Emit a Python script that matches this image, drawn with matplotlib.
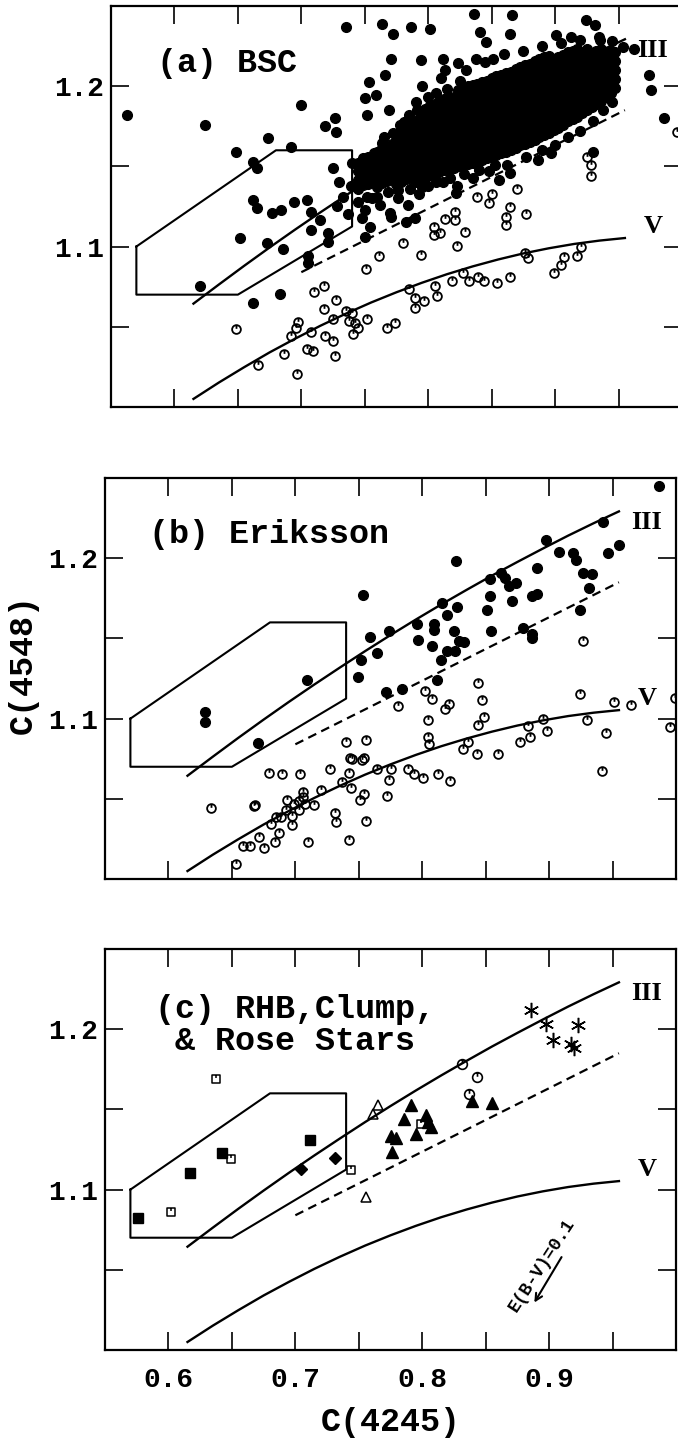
import numpy as np
import matplotlib.pyplot as plt
from matplotlib.path import Path

# ---- reference sequences (III = giants, V = dwarfs), dashed divider, box ----
seq_x = [0.615, 0.635, 0.655, 0.675, 0.695, 0.715, 0.735, 0.755, 0.775,
         0.795, 0.815, 0.835, 0.855, 0.875, 0.895, 0.915, 0.935, 0.955]
giant_y = [1.0644, 1.0763, 1.0880, 1.0994, 1.1105, 1.1213, 1.1318, 1.1421, 1.1521,
           1.1618, 1.1712, 1.1803, 1.1892, 1.1977, 1.2060, 1.2141, 1.2218, 1.2292]
dwarf_y = [1.0050, 1.0152, 1.0248, 1.0340, 1.0425, 1.0506, 1.0581, 1.0651, 1.0715,
           1.0774, 1.0828, 1.0876, 1.0919, 1.0957, 1.0989, 1.1016, 1.1037, 1.1053]
dash_x = [0.70, 0.955]
dash_y = [1.084, 1.185]
box_x = [0.57, 0.57, 0.65, 0.74, 0.74, 0.68, 0.57]
box_y = [1.10, 1.07, 1.07, 1.1125, 1.16, 1.16, 1.10]

# ---- (a) BSC: giants (filled), scattered stars ----
bsc_giants = [
    (0.5624, 1.182), (0.6239, 1.1757), (0.6488, 1.1591), (0.6734, 1.1674), (0.6622, 1.1525),
    (0.6649, 1.1488), (0.6922, 1.1622), (0.6997, 1.1882), (0.7185, 1.1753), (0.7264, 1.1799),
    (0.727, 1.1716), (0.7349, 1.2369), (0.7247, 1.1488), (0.6622, 1.129), (0.6649, 1.1239),
    (0.6768, 1.1207), (0.6837, 1.1228), (0.6939, 1.128), (0.7042, 1.129), (0.7076, 1.1218),
    (0.7144, 1.1166), (0.7076, 1.1104), (0.7213, 1.1083), (0.7213, 1.1031), (0.6519, 1.1052),
    (0.6727, 1.1025), (0.6854, 1.0983), (0.7049, 1.0938), (0.7049, 1.0896), (0.6198, 1.0755),
    (0.6622, 1.0651), (0.683, 1.0705), (0.7503, 1.1058), (0.74, 1.1519), (0.7537, 1.2027),
    (0.7503, 1.1923), (0.7588, 1.1944), (0.7517, 1.182), (0.7656, 1.2068), (0.769, 1.1851),
    (0.7639, 1.239), (0.7725, 1.2328), (0.7861, 1.2369), (0.8015, 1.2359), (0.7708, 1.2166),
    (0.7947, 1.2162), (0.781, 1.1778), (0.7639, 1.1643), (0.7571, 1.1581), (0.8117, 1.2172),
    (0.8135, 1.21), (0.8237, 1.2141), (0.8357, 1.2452), (0.8408, 1.2338), (0.8459, 1.2276),
    (0.8664, 1.2442), (0.8647, 1.2328), (0.8374, 1.2172), (0.8511, 1.2172), (0.9006, 1.2317),
    (0.9125, 1.2307), (0.9245, 1.2411), (0.9313, 1.238), (0.9347, 1.2307), (0.8783, 1.2037),
    (0.974, 1.2068), (0.9757, 1.1975), (0.9859, 1.1799), (0.962, 1.2234), (0.9535, 1.2245),
    (0.9296, 1.1591), (0.8971, 1.1581), (0.8869, 1.154), (0.8647, 1.1456), (0.8561, 1.1415),
    (0.822, 1.1332), (0.7896, 1.1176), (0.7827, 1.1156), (0.7708, 1.1187),
    (0.728, 1.125), (0.733, 1.131), (0.737, 1.120), (0.745, 1.128), (0.750, 1.123),
    (0.756, 1.130), (0.739, 1.138), (0.730, 1.140), (0.748, 1.118), (0.754, 1.112),
    (0.762, 1.126), (0.770, 1.121), (0.776, 1.130), (0.784, 1.126), (0.793, 1.133),
    (0.800, 1.138), (0.812, 1.140), (0.823, 1.138), (0.835, 1.143), (0.848, 1.147),
    (0.862, 1.151), (0.877, 1.156), (0.890, 1.160), (0.900, 1.163), (0.910, 1.168),
    (0.920, 1.172), (0.930, 1.178), (0.938, 1.185), (0.945, 1.190),
    (0.790, 1.190), (0.795, 1.200), (0.810, 1.205), (0.830, 1.210), (0.845, 1.215),
    (0.860, 1.220), (0.875, 1.222), (0.890, 1.225), (0.905, 1.227), (0.920, 1.229),
    (0.935, 1.229), (0.945, 1.228),
    # ragged rim of the clump
    (0.765, 1.168), (0.772, 1.171), (0.778, 1.176), (0.785, 1.182), (0.791, 1.185),
    (0.800, 1.193), (0.806, 1.196), (0.815, 1.198), (0.825, 1.203),
    (0.752, 1.131), (0.760, 1.131), (0.768, 1.134), (0.776, 1.135), (0.786, 1.136),
    (0.795, 1.137), (0.806, 1.140), (0.817, 1.143), (0.828, 1.145), (0.840, 1.148),
    (0.853, 1.151),
]

# ---- (a) BSC: the saturated giant clump, read column by column ----
bsc_clump = [
    (0.7450, [1.136, 1.1415, 1.147, 1.152]),
    (0.7488, [1.1385, 1.144, 1.1495, 1.155]),
    (0.7525, [1.139, 1.1445, 1.150, 1.1555]),
    (0.7563, [1.140, 1.1455, 1.151, 1.1565]),
    (0.7600, [1.137, 1.1425, 1.148, 1.1535, 1.159]),
    (0.7638, [1.1395, 1.145, 1.1505, 1.156, 1.1615]),
    (0.7675, [1.141, 1.146, 1.151, 1.157, 1.162]),
    (0.7713, [1.142, 1.1475, 1.153, 1.1585, 1.164]),
    (0.7750, [1.139, 1.1445, 1.150, 1.1555, 1.161, 1.1665]),
    (0.7788, [1.1405, 1.146, 1.1515, 1.157, 1.1625, 1.168, 1.172]),
    (0.7825, [1.142, 1.1475, 1.153, 1.1585, 1.164, 1.1695, 1.175]),
    (0.7863, [1.143, 1.1485, 1.154, 1.1595, 1.165, 1.1705, 1.176]),
    (0.7900, [1.140, 1.1455, 1.151, 1.1565, 1.162, 1.1675, 1.173, 1.178]),
    (0.7938, [1.142, 1.1475, 1.153, 1.1585, 1.164, 1.1695, 1.175, 1.180, 1.184]),
    (0.7975, [1.143, 1.1485, 1.154, 1.1595, 1.165, 1.1705, 1.176, 1.1815, 1.186]),
    (0.8013, [1.1445, 1.150, 1.1555, 1.161, 1.1665, 1.172, 1.1775, 1.183, 1.188]),
    (0.8050, [1.145, 1.1505, 1.156, 1.1615, 1.167, 1.1725, 1.178, 1.1835, 1.189]),
    (0.8088, [1.1465, 1.152, 1.1575, 1.163, 1.1685, 1.174, 1.1795, 1.185, 1.190]),
    (0.8125, [1.148, 1.1535, 1.159, 1.1645, 1.170, 1.1755, 1.181, 1.1865, 1.192]),
    (0.8163, [1.1485, 1.154, 1.1595, 1.165, 1.1705, 1.176, 1.1815, 1.187, 1.1925]),
    (0.8200, [1.149, 1.1545, 1.160, 1.1655, 1.171, 1.1765, 1.182, 1.1875, 1.193]),
    (0.8238, [1.150, 1.1555, 1.161, 1.1665, 1.172, 1.1775, 1.183, 1.1885, 1.194, 1.1975]),
    (0.8275, [1.151, 1.1565, 1.162, 1.1675, 1.173, 1.1785, 1.184, 1.1895, 1.195, 1.1995]),
    (0.8313, [1.1515, 1.157, 1.1625, 1.168, 1.1735, 1.179, 1.1845, 1.190, 1.1955, 1.200]),
    (0.8350, [1.152, 1.157, 1.1625, 1.168, 1.1735, 1.179, 1.1845, 1.190, 1.1955, 1.2005]),
    (0.8388, [1.153, 1.1585, 1.164, 1.1695, 1.175, 1.1805, 1.186, 1.1915, 1.197, 1.2015]),
    (0.8425, [1.154, 1.1595, 1.165, 1.1705, 1.176, 1.1815, 1.187, 1.1925, 1.198, 1.2025]),
    (0.8463, [1.155, 1.1605, 1.166, 1.1715, 1.177, 1.1825, 1.188, 1.1935, 1.199, 1.2035]),
    (0.8500, [1.156, 1.1615, 1.167, 1.1725, 1.178, 1.1835, 1.189, 1.1945, 1.200, 1.205]),
    (0.8538, [1.157, 1.1625, 1.168, 1.1735, 1.179, 1.1845, 1.190, 1.1955, 1.201, 1.206]),
    (0.8575, [1.158, 1.1635, 1.169, 1.1745, 1.180, 1.1855, 1.191, 1.1965, 1.202, 1.207]),
    (0.8613, [1.159, 1.1645, 1.170, 1.1755, 1.181, 1.1865, 1.192, 1.1975, 1.203, 1.208]),
    (0.8650, [1.160, 1.1655, 1.171, 1.1765, 1.182, 1.1875, 1.193, 1.1985, 1.204, 1.209]),
    (0.8688, [1.1615, 1.167, 1.1725, 1.178, 1.1835, 1.189, 1.1945, 1.200, 1.2055, 1.2105]),
    (0.8725, [1.163, 1.1685, 1.174, 1.1795, 1.185, 1.1905, 1.196, 1.2015, 1.207, 1.212]),
    (0.8763, [1.164, 1.1695, 1.175, 1.1805, 1.186, 1.1915, 1.197, 1.2025, 1.208, 1.213]),
    (0.8800, [1.165, 1.1705, 1.176, 1.1815, 1.187, 1.1925, 1.198, 1.2035, 1.209, 1.214]),
    (0.8838, [1.1665, 1.172, 1.1775, 1.183, 1.1885, 1.194, 1.1995, 1.205, 1.2105, 1.2155]),
    (0.8875, [1.168, 1.1735, 1.179, 1.1845, 1.190, 1.1955, 1.201, 1.2065, 1.212, 1.217]),
    (0.8913, [1.1695, 1.175, 1.1805, 1.186, 1.1915, 1.197, 1.2025, 1.208, 1.2135, 1.218]),
    (0.8950, [1.171, 1.1765, 1.182, 1.1875, 1.193, 1.1985, 1.204, 1.2095, 1.215, 1.219]),
    (0.8988, [1.1725, 1.178, 1.1835, 1.189, 1.1945, 1.200, 1.2055, 1.211, 1.2165]),
    (0.9025, [1.174, 1.1795, 1.185, 1.1905, 1.196, 1.2015, 1.207, 1.2125, 1.218]),
    (0.9063, [1.176, 1.1815, 1.187, 1.1925, 1.198, 1.2035, 1.209, 1.2145, 1.2195]),
    (0.9100, [1.178, 1.1835, 1.189, 1.1945, 1.200, 1.2055, 1.211, 1.2165, 1.221]),
    (0.9138, [1.1795, 1.185, 1.1905, 1.196, 1.2015, 1.207, 1.2125, 1.218, 1.222]),
    (0.9175, [1.181, 1.1865, 1.192, 1.1975, 1.203, 1.2085, 1.214, 1.2195, 1.223]),
    (0.9213, [1.183, 1.1885, 1.194, 1.1995, 1.205, 1.2105, 1.216, 1.221]),
    (0.9250, [1.185, 1.1905, 1.196, 1.2015, 1.207, 1.2125, 1.218, 1.223]),
    (0.9288, [1.187, 1.1925, 1.198, 1.2035, 1.209, 1.2145, 1.220]),
    (0.9325, [1.189, 1.1945, 1.200, 1.2055, 1.211, 1.2165, 1.222]),
    (0.9363, [1.191, 1.1965, 1.202, 1.2075, 1.213, 1.2185, 1.223]),
    (0.9400, [1.193, 1.1985, 1.204, 1.2095, 1.215, 1.2205]),
    (0.9438, [1.196, 1.2015, 1.207, 1.2125, 1.218, 1.222]),
    (0.9475, [1.199, 1.2045, 1.210, 1.2155, 1.221]),
]

# ---- (a) BSC: dwarfs (open) ----
bsc_dwarfs = [
    (0.9255, 1.156), (0.9279, 1.1508), (0.9279, 1.144), (0.996, 1.1716), (0.8698, 1.1357),
    (0.8503, 1.1328), (0.8384, 1.1307), (0.8647, 1.1245), (0.8613, 1.1187), (0.8613, 1.1135),
    (0.8773, 1.1203), (0.8476, 1.127), (0.8213, 1.1218), (0.821, 1.1166), (0.8135, 1.117),
    (0.8049, 1.112), (0.8049, 1.1073), (0.8093, 1.1083), (0.8288, 1.1093), (0.8227, 1.1004),
    (0.7947, 1.0948), (0.78, 1.1025), (0.7615, 1.0938), (0.7513, 1.0859), (0.8988, 1.0834),
    (0.9043, 1.0884), (0.9074, 1.0932), (0.9176, 1.0938), (0.9204, 1.0996), (0.8766, 1.0959),
    (0.8783, 1.0927), (0.8647, 1.0807), (0.8545, 1.0772), (0.8442, 1.0782), (0.8391, 1.0813),
    (0.8323, 1.0782), (0.8271, 1.0834), (0.8186, 1.0786), (0.8056, 1.0751), (0.8073, 1.0689),
    (0.7964, 1.0662), (0.7896, 1.0678), (0.7845, 1.0734), (0.7896, 1.0616), (0.7742, 1.0523),
    (0.7674, 1.0492), (0.752, 1.0548), (0.7424, 1.0523), (0.7445, 1.0492), (0.7411, 1.0454),
    (0.7349, 1.0595), (0.74, 1.0585), (0.7376, 1.0533), (0.7247, 1.0548), (0.7273, 1.0668),
    (0.7178, 1.061), (0.7178, 1.0751), (0.7103, 1.0714), (0.7076, 1.0465), (0.7247, 1.0409),
    (0.7185, 1.044), (0.7042, 1.0361), (0.7093, 1.0347), (0.7264, 1.032), (0.6973, 1.0527),
    (0.6956, 1.0492), (0.6922, 1.044), (0.6864, 1.0332), (0.6966, 1.0207), (0.6656, 1.0263),
    (0.6488, 1.0485),
]

# ---- (b) Eriksson ----
eri_giants = [
    (0.9863, 1.2449), (0.9425, 1.2223), (0.9551, 1.2081), (0.9466, 1.2031), (0.8979, 1.2115),
    (0.9075, 1.204), (0.9185, 1.2035), (0.9212, 1.199), (0.927, 1.191), (0.9339, 1.19),
    (0.9315, 1.1816), (0.9243, 1.1676), (0.8904, 1.1942), (0.8866, 1.1764), (0.8904, 1.1775),
    (0.8866, 1.153), (0.8866, 1.1503), (0.8791, 1.1566), (0.874, 1.1848), (0.8705, 1.1733),
    (0.8682, 1.1827), (0.862, 1.191), (0.8654, 1.1879), (0.8534, 1.1873), (0.8534, 1.1764),
    (0.851, 1.168), (0.8541, 1.1545), (0.8267, 1.1983), (0.8271, 1.1697), (0.8192, 1.1649),
    (0.8158, 1.1722), (0.825, 1.1545), (0.8329, 1.1476), (0.8288, 1.1482), (0.8192, 1.1424),
    (0.826, 1.1424), (0.8151, 1.1367), (0.8089, 1.1587), (0.8089, 1.1551), (0.8079, 1.1451),
    (0.7969, 1.1489), (0.7959, 1.1587), (0.8116, 1.1238), (0.7842, 1.1184), (0.7712, 1.1163),
    (0.774, 1.1545), (0.7644, 1.1409), (0.7592, 1.1509), (0.7534, 1.1768), (0.7517, 1.1367),
    (0.749, 1.1259), (0.7089, 1.1242), (0.6702, 1.085), (0.6291, 1.1044), (0.6291, 1.0981),
]
eri_dwarfs = [
    (0.927, 1.1482), (0.8438, 1.1225), (0.8473, 1.1117), (0.8483, 1.1008), (0.8438, 1.096),
    (0.9247, 1.1154), (0.951, 1.1106), (0.9647, 1.1086), (0.999, 1.1127), (0.9949, 1.095),
    (0.9452, 1.0912), (0.9418, 1.0674), (0.9295, 1.0992), (0.8952, 1.0996), (0.898, 1.0925),
    (0.8836, 1.0954), (0.885, 1.0883), (0.8774, 1.0856), (0.8363, 1.0856), (0.8318, 1.0808),
    (0.8432, 1.0779), (0.8596, 1.0779), (0.8048, 1.0992), (0.8048, 1.0883), (0.8055, 1.0841),
    (0.8021, 1.1175), (0.8079, 1.1121), (0.8182, 1.1058), (0.8212, 1.1092), (0.7808, 1.1079),
    (0.7558, 1.0866), (0.7541, 1.0752), (0.7524, 1.0741), (0.7397, 1.0856), (0.7449, 1.0747),
    (0.7428, 1.0752), (0.7274, 1.0689), (0.7421, 1.0658), (0.7644, 1.0683), (0.7753, 1.0683),
    (0.789, 1.0689), (0.7935, 1.0653), (0.8003, 1.0633), (0.8123, 1.0653), (0.8219, 1.0612),
    (0.774, 1.062), (0.737, 1.0605), (0.6795, 1.0662), (0.6897, 1.0653), (0.7038, 1.0653),
    (0.7205, 1.0557), (0.744, 1.057), (0.7541, 1.0532), (0.7507, 1.049), (0.7723, 1.0518),
    (0.7062, 1.0543), (0.7062, 1.0511), (0.7027, 1.0486), (0.6932, 1.049), (0.6993, 1.047),
    (0.7079, 1.047), (0.7147, 1.0459), (0.6675, 1.0453), (0.6685, 1.0459), (0.6336, 1.0445),
    (0.6925, 1.0432), (0.689, 1.0386), (0.6849, 1.0386), (0.6805, 1.0344), (0.6976, 1.039),
    (0.6976, 1.0334), (0.7027, 1.0428), (0.7312, 1.0411), (0.7319, 1.0355), (0.7558, 1.0359),
    (0.6873, 1.0286), (0.6839, 1.0234), (0.6712, 1.0261), (0.6753, 1.0192), (0.6644, 1.0209),
    (0.6589, 1.0209), (0.7096, 1.023), (0.7421, 1.0246), (0.6531, 1.0094),
]

# ---- (c) RHB, clump and Rose stars ----
sq_fill_x = [0.5757, 0.6169, 0.6422, 0.7115]
sq_fill_y = [1.0823, 1.1104, 1.1227, 1.131]
sq_open_x = [0.6378, 0.6017, 0.649, 0.7436, 0.7993]
sq_open_y = [1.1692, 1.0858, 1.1192, 1.1125, 1.1406]
dia_x = [0.7047, 0.7311]
dia_y = [1.1129, 1.1196]
tri_open_x = [0.7655, 0.7615, 0.7554]
tri_open_y = [1.1525, 1.1473, 1.0952]
tri_fill_x = [0.775, 0.779, 0.7764, 0.7909, 0.7858, 0.7953, 0.8027, 0.8044, 0.8068, 0.8392, 0.8551]
tri_fill_y = [1.1333, 1.1323, 1.1233, 1.1525, 1.1438, 1.1344, 1.1463, 1.1421, 1.139, 1.155, 1.154]
circ_c_x = [0.8314, 0.8432, 0.8372]
circ_c_y = [1.1785, 1.1702, 1.1598]
star_x = [0.8855, 0.8973, 0.9030, 0.9226, 0.9176, 0.9193]
star_y = [1.2119, 1.2031, 1.1935, 1.2025, 1.191, 1.1885]

xticks = [0.60, 0.65, 0.70, 0.75, 0.80, 0.85, 0.90, 0.95]
xticklabels = ['0.6', '', '0.7', '', '0.8', '', '0.9', '']
yticks = [1.05, 1.10, 1.15, 1.20]
yticklabels = ['', '1.1', '', '1.2']

mono = 'Liberation Mono'
serif = 'Liberation Serif'

# open symbols carry a small stroke from the top to the centre
tick_seg = Path([[0, 1], [0, 0.15]], [Path.MOVETO, Path.LINETO])
ring_tick = Path.make_compound_path(Path.unit_circle(), tick_seg)
box_tick = Path.make_compound_path(
    Path([[-1, -1], [1, -1], [1, 1], [-1, 1], [-1, -1]],
         [Path.MOVETO, Path.LINETO, Path.LINETO, Path.LINETO, Path.CLOSEPOLY]),
    Path([[0, 1], [0, 0.2]], [Path.MOVETO, Path.LINETO]))

fig = plt.figure(figsize=(6.78, 14.42), dpi=100)
ax_a = fig.add_axes([0.1637, 0.7178, 0.8422, 0.2781])
ax_b = fig.add_axes([0.1549, 0.3904, 0.8422, 0.2781])
ax_c = fig.add_axes([0.1549, 0.0638, 0.8422, 0.2781])


def frame(ax, bottom_labels):
    ax.plot(seq_x, giant_y, color='k', lw=1.7, zorder=3)
    ax.plot(seq_x, dwarf_y, color='k', lw=1.7, zorder=3)
    ax.plot(dash_x, dash_y, color='k', lw=1.6, ls=(0, (4, 2.5)), zorder=3)
    ax.plot(box_x, box_y, color='k', lw=1.5, zorder=3)
    ax.set_xlim(0.55, 1.0)
    ax.set_ylim(1.0, 1.25)
    ax.set_xticks(xticks)
    ax.set_yticks(yticks)
    ax.set_yticklabels(yticklabels, fontfamily=mono, fontweight='bold', fontsize=20)
    if bottom_labels:
        ax.set_xticklabels(xticklabels, fontfamily=mono, fontweight='bold', fontsize=20)
    else:
        ax.set_xticklabels([])
    ax.tick_params(direction='in', length=13, width=1.2, top=True, right=True)
    ax.tick_params(axis='x', pad=12)
    ax.tick_params(axis='y', pad=5)
    for s in ax.spines.values():
        s.set_linewidth(1.6)
    ax.text(0.977, 1.222, 'III', family=serif, fontweight='bold', fontsize=19,
            ha='center', va='center')
    ax.text(0.977, 1.1125, 'V', family=serif, fontweight='bold', fontsize=19,
            ha='center', va='center')


for ax in (ax_a, ax_b, ax_c):
    frame(ax, ax is ax_c)

ga = np.array(bsc_giants)
da = np.array(bsc_dwarfs)
clump_x = [cx for cx, ys in bsc_clump for _ in ys]
clump_y = [y for cx, ys in bsc_clump for y in ys]
ax_a.plot(da[:, 0], da[:, 1], ls='none', marker=ring_tick, ms=6.3, mfc='none', mec='k', mew=1.3)
ax_a.plot(ga[:, 0], ga[:, 1], ls='none', marker='o', ms=7, color='k')
ax_a.plot(clump_x, clump_y, ls='none', marker='o', ms=7, color='k')
ax_a.text(0.586, 1.214, '(a) BSC', family=mono, fontweight='bold', fontsize=24, va='center')

gb = np.array(eri_giants)
db = np.array(eri_dwarfs)
ax_b.plot(db[:, 0], db[:, 1], ls='none', marker=ring_tick, ms=6.3, mfc='none', mec='k', mew=1.3)
ax_b.plot(gb[:, 0], gb[:, 1], ls='none', marker='o', ms=7, color='k')
ax_b.text(0.5846, 1.215, '(b) Eriksson', family=mono, fontweight='bold', fontsize=24, va='center')

ax_c.plot(sq_fill_x, sq_fill_y, ls='none', marker='s', ms=6.5, color='k')
ax_c.plot(sq_open_x, sq_open_y, ls='none', marker=box_tick, ms=5.5, mfc='none', mec='k', mew=1.1)
ax_c.plot(dia_x, dia_y, ls='none', marker='D', ms=6, color='k')
ax_c.plot(tri_open_x, tri_open_y, ls='none', marker='^', ms=7, mfc='white', mec='k', mew=1.1)
ax_c.plot(tri_fill_x, tri_fill_y, ls='none', marker='^', ms=8.5, color='k')
ax_c.plot(circ_c_x, circ_c_y, ls='none', marker=ring_tick, ms=7, mfc='none', mec='k', mew=1.2)
ax_c.plot(star_x, star_y, ls='none', marker=(6, 2, 0), ms=11, color='k', mew=1.1)
ax_c.text(0.6997, 1.2025, '(c) RHB,Clump,\n& Rose Stars', family=mono, fontweight='bold',
          fontsize=24, ha='center', va='center', multialignment='center', linespacing=1.05)
ax_c.annotate('', xy=(0.8872, 1.0281), xytext=(0.9109, 1.0594),
              arrowprops=dict(arrowstyle='->,head_length=0.5,head_width=0.25', lw=1.5, color='k'))
ax_c.text(0.8939, 1.0531, 'E(B-V)=0.1', family=mono, fontweight='bold', fontsize=13,
          rotation=57, rotation_mode='anchor', ha='center', va='center')
ax_c.set_xlabel('C(4245)', family=mono, fontweight='bold', fontsize=24, labelpad=10)

fig.text(0.035, 0.5395, 'C(4548)', family=mono, fontweight='bold', fontsize=24,
         rotation=90, ha='center', va='center')

fig.savefig('out.png', dpi=100)
